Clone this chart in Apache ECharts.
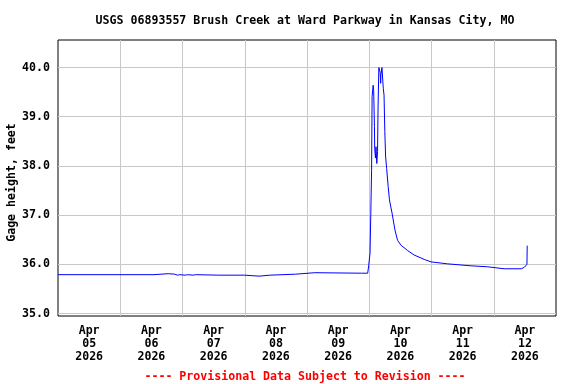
<!DOCTYPE html>
<html>
<head>
<meta charset="utf-8">
<script src="https://cdn.jsdelivr.net/npm/echarts@6/dist/echarts.min.js"></script>
<style>html,body{margin:0;padding:0;background:#fff}#c{width:576px;height:384px}</style>
</head>
<body>
<div id="c"></div>
<script>
// Hours since 2026-04-05 00:00
const hours = [0, 37, 37.5, 42.5, 43, 45, 46, 47, 49, 50, 52, 53, 62, 72, 72.5, 77.5, 78, 81.7, 82, 91.6, 92, 99, 99.5, 117, 117.3, 117.6, 119.4,
  119.8, 120.1, 120.3, 120.6, 120.9, 121.1, 121.5, 121.7, 122.0, 122.1, 122.4, 122.6, 122.9, 123.2, 123.4, 123.7, 124.0, 124.2, 124.4, 124.5, 124.9, 125.3,
  125.4, 125.7, 126.0, 126.3, 126.7, 127.3, 127.8, 128.3, 128.8, 129.9, 130.9, 132.2, 134.8, 137.3, 141.2, 143.8, 150.2, 159.2, 165.7, 172.0, 178.6, 179.8, 180.8, 180.9];
const gage = [35.79, 35.79, 35.81, 35.81, 35.80, 35.80, 35.78, 35.79, 35.78, 35.79, 35.78, 35.79, 35.78, 35.78, 35.76, 35.76, 35.78, 35.78, 35.80, 35.80, 35.83, 35.83, 35.82, 35.82, 35.81, 35.82, 35.82,
  35.98, 36.00, 36.23, 37.04, 37.91, 39.41, 39.64, 39.55, 38.80, 38.36, 38.16, 38.39, 38.05, 38.29, 39.20, 40.00, 40.00, 39.90, 39.68, 39.85, 40.00, 40.02,
  39.58, 39.44, 38.70, 38.20, 37.95, 37.58, 37.31, 37.17, 37.04, 36.70, 36.49, 36.39, 36.28, 36.19, 36.10, 36.05, 36.01, 35.97, 35.95, 35.91, 35.91, 35.94, 36.00, 36.38];
const yTicks = [35, 36, 37, 38, 39, 40];
const dayLines = [24, 48, 72, 96, 120, 144, 168];
const dayCenters = [12, 36, 60, 84, 108, 132, 156, 180];
const dayLabels = ['Apr\n05\n2026', 'Apr\n06\n2026', 'Apr\n07\n2026', 'Apr\n08\n2026', 'Apr\n09\n2026', 'Apr\n10\n2026', 'Apr\n11\n2026', 'Apr\n12\n2026'];
const titleText = 'USGS 06893557 Brush Creek at Ward Parkway in Kansas City, MO';
const footerText = '---- Provisional Data Subject to Revision ----';
const yName = 'Gage height, feet';

const FONT = 'DejaVu Sans Mono';
const chart = echarts.init(document.getElementById('c'), null, {renderer: 'canvas'});
chart.setOption({
  animation: false,
  backgroundColor: '#ffffff',
  title: [
    {text: titleText, left: 300, top: 10, textAlign: 'center',
      textStyle: {fontFamily: FONT, fontWeight: 'bold', fontSize: 11.6, color: '#000'}},
    {text: footerText, left: 300, top: 366, textAlign: 'center',
      textStyle: {fontFamily: FONT, fontWeight: 'bold', fontSize: 11.6, color: '#ff0000'}}
  ],
  grid: {left: 58, right: 20, top: 40, bottom: 68, containLabel: false, outerBoundsMode: 'none',
    show: true, borderColor: '#000', borderWidth: 1, backgroundColor: 'transparent'},
  xAxis: {
    type: 'value', min: 0, max: 192,
    axisLine: {show: false},
    axisTick: {show: false, customValues: dayLines},
    splitLine: {show: true, lineStyle: {color: '#c8c8c8', width: 1}},
    axisLabel: {
      customValues: dayCenters, margin: 8, lineHeight: 13,
      fontFamily: FONT, fontWeight: 'bold', fontSize: 11.6, color: '#000',
      formatter: v => dayLabels[Math.floor(v / 24)]
    }
  },
  yAxis: {
    type: 'value', min: 34.95, max: 40.56,
    name: yName, nameLocation: 'middle', nameGap: 40, nameRotate: 90, nameMoveOverlap: false,
    nameTextStyle: {fontFamily: FONT, fontWeight: 'bold', fontSize: 11.6, color: '#000', padding: [0, 9, 0, 0]},
    axisLine: {show: false},
    axisTick: {show: false, customValues: yTicks},
    splitLine: {show: true, lineStyle: {color: '#c8c8c8', width: 1}},
    axisLabel: {
      customValues: yTicks, margin: 8,
      fontFamily: FONT, fontWeight: 'bold', fontSize: 11.6, color: '#000',
      formatter: v => v.toFixed(1)
    }
  },
  series: [{
    type: 'line', data: hours.map((h, i) => [h, gage[i]]),
    showSymbol: false, lineStyle: {color: '#0000ff', width: 1}, itemStyle: {color: '#0000ff'}
  }]
});
</script>
</body>
</html>
